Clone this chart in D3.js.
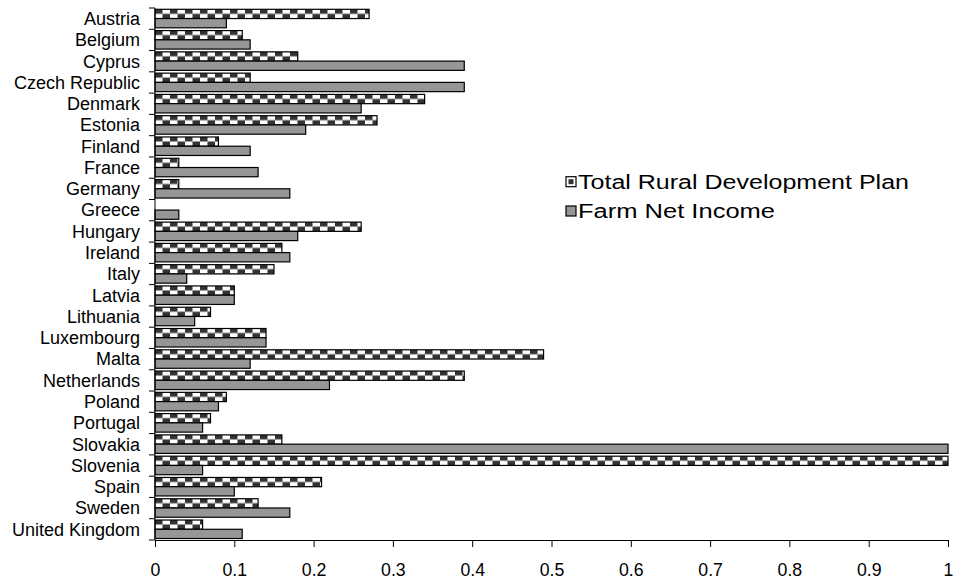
<!DOCTYPE html>
<html>
<head>
<meta charset="utf-8">
<script src="https://cdn.jsdelivr.net/npm/d3@7"></script>
<style>
  body { margin: 0; background: #fff; }
  text { font-family: "Liberation Sans", Arial, sans-serif; fill: #000; }
</style>
</head>
<body>
<svg id="chart" width="955" height="583"></svg>
<script>
const categories = ["Austria","Belgium","Cyprus","Czech Republic","Denmark","Estonia","Finland","France","Germany","Greece","Hungary","Ireland","Italy","Latvia","Lithuania","Luxembourg","Malta","Netherlands","Poland","Portugal","Slovakia","Slovenia","Spain","Sweden","United Kingdom"];
const totalRDP = [0.27,0.11,0.18,0.12,0.34,0.28,0.08,0.03,0.03,0,0.26,0.16,0.15,0.10,0.07,0.14,0.49,0.39,0.09,0.07,0.16,1.0,0.21,0.13,0.06];
const farmNetIncome = [0.09,0.12,0.39,0.39,0.26,0.19,0.12,0.13,0.17,0.03,0.18,0.17,0.04,0.10,0.05,0.14,0.12,0.22,0.08,0.06,1.0,0.06,0.10,0.17,0.11];
const xTicks = [0,0.1,0.2,0.3,0.4,0.5,0.6,0.7,0.8,0.9,1];
const seriesNames = ["Total Rural Development Plan","Farm Net Income"];

const svg = d3.select("#chart");
const defs = svg.append("defs");
const pat = defs.append("pattern").attr("id","checker")
  .attr("patternUnits","userSpaceOnUse").attr("width",15).attr("height",9);
pat.append("rect").attr("width",15).attr("height",9).attr("fill","#fff");
pat.append("rect").attr("x",0).attr("y",0).attr("width",7.5).attr("height",4.5).attr("fill","#333");
pat.append("rect").attr("x",7.5).attr("y",4.5).attr("width",7.5).attr("height",4.5).attr("fill","#333");

const x = d3.scaleLinear().domain([0,1]).range([155,948]);
const y = d3.scaleBand().domain(categories).range([8,540]).padding(0);
const ySub = d3.scaleBand().domain(["rdp","fni"]).range([1.3, 19.8]).padding(0);

// bars
const rows = svg.append("g").selectAll("g").data(categories).join("g")
  .attr("transform", d => `translate(0,${y(d)})`);

rows.each(function(c, i) {
  const g = d3.select(this);
  if (totalRDP[i] > 0) {
    g.append("g").attr("transform", `translate(${x(0)},${ySub("rdp")})`)
      .append("rect").attr("x",0).attr("y",0)
      .attr("width", x(totalRDP[i]) - x(0)).attr("height", ySub.bandwidth())
      .attr("fill","url(#checker)").attr("stroke","#000").attr("stroke-width",1.2);
  }
  if (farmNetIncome[i] > 0) {
    g.append("rect").attr("x", x(0)).attr("y", ySub("fni"))
      .attr("width", x(farmNetIncome[i]) - x(0)).attr("height", ySub.bandwidth())
      .attr("fill","#969696").attr("stroke","#000").attr("stroke-width",1.2);
  }
});

// x axis
const xAxis = d3.axisBottom(x).tickValues(xTicks).tickSize(7).tickPadding(16)
  .tickFormat(d => d3.format("")(d));
const gx = svg.append("g").attr("transform","translate(0,540)").call(xAxis);
gx.select(".domain").attr("stroke","#000");
gx.selectAll(".tick line").attr("stroke","#000");
gx.selectAll(".tick text").attr("font-size",17.7).attr("font-family","'Liberation Sans', Arial, sans-serif");

// y axis
const gy = svg.append("g").attr("transform",`translate(${x(0)},0)`);
gy.append("line").attr("x1",0).attr("x2",0).attr("y1",8).attr("y2",540).attr("stroke","#000");
const bounds = categories.map(c => y(c)).concat([540]);
gy.selectAll("line.tk").data(bounds).join("line").attr("class","tk")
  .attr("x1",-6).attr("x2",0).attr("y1",d=>d).attr("y2",d=>d).attr("stroke","#000");
gy.selectAll("text").data(categories).join("text")
  .attr("x",-15).attr("y", d => y(d) + y.bandwidth()/2)
  .attr("dy","0.35em").attr("text-anchor","end").attr("font-size",18)
  .text(d => d);

// legend
const leg = svg.append("g");
const ly = [181.7, 211];
leg.append("rect").attr("x",566).attr("y",ly[0]-5).attr("width",10).attr("height",10)
  .attr("fill","#fff").attr("stroke","#000").attr("stroke-width",1.2);
leg.append("rect").attr("x",568.5).attr("y",ly[0]-2.5).attr("width",5).attr("height",5).attr("fill","#333");
leg.append("rect").attr("x",566).attr("y",ly[1]-5).attr("width",10).attr("height",10)
  .attr("fill","#969696").attr("stroke","#000").attr("stroke-width",1.2);
const legLen = [331, 197];
leg.selectAll("text").data(seriesNames).join("text")
  .attr("x",578).attr("y",(d,i)=>ly[i]).attr("dy","0.36em").attr("font-size",20)
  .attr("textLength",(d,i)=>legLen[i]).attr("lengthAdjust","spacingAndGlyphs")
  .text(d => d);
</script>
</body>
</html>
